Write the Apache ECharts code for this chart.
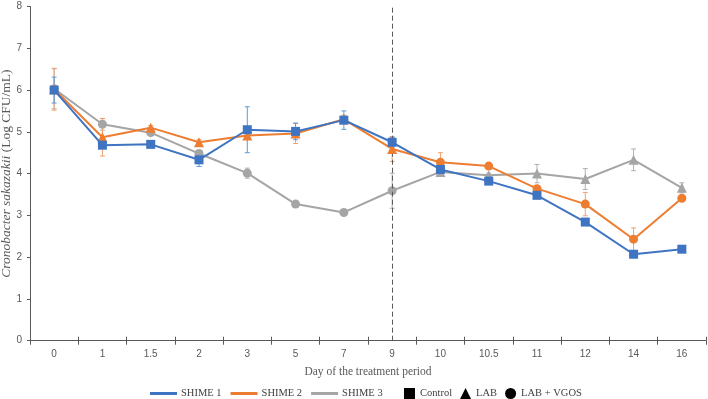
<!DOCTYPE html>
<html>
<head>
<meta charset="utf-8">
<script src="https://cdn.jsdelivr.net/npm/echarts@6/dist/echarts.min.js"></script>
<style>html,body{margin:0;padding:0;background:#fff;}#c{width:708px;height:399px;}</style>
</head>
<body>
<div id="c"></div>
<script>
// ---- data ----
const days = ['0','1','1.5','2','3','5','7','9','10','10.5','11','12','14','16'];
const shime1 = [6.00, 4.68, 4.70, 4.33, 5.05, 5.01, 5.28, 4.75, 4.10, 3.82, 3.48, 2.84, 2.07, 2.19];
const shime2 = [6.02, 4.87, 5.10, 4.75, 4.91, 4.96, 5.30, 4.59, 4.27, 4.18, 3.64, 3.27, 2.43, 3.41];
const shime3 = [6.03, 5.18, 4.98, 4.48, 4.01, 3.27, 3.07, 3.59, 4.04, 3.96, 4.00, 3.87, 4.33, 3.66];
const err1 = [0.31, 0.05, 0.04, 0.16, 0.55, 0.20, 0.22, 0.12, 0.05, 0.04, 0.05, 0.05, 0.04, 0.04];
const err2 = [0.50, 0.45, 0.05, 0.06, 0.08, 0.24, 0.10, 0.30, 0.23, 0.05, 0.05, 0.28, 0.27, 0.05];
const err3 = [0.48, 0.14, 0.05, 0.05, 0.12, 0.05, 0.05, 0.42, 0.10, 0.05, 0.22, 0.25, 0.26, 0.12];
const switchDay = '9';
const yTicks = [0, 1, 2, 3, 4, 5, 6, 7, 8];

const C1 = '#3F74C2', C2 = '#ED7D31', C3 = '#A5A5A5';
const switchIdx = days.indexOf(switchDay);

function errData(vals, errs) {
  return vals.map((v, i) => [i, v - errs[i], v + errs[i]]);
}
function errSeries(name, vals, errs, color, z) {
  return {
    type: 'custom', name: name + ' err', z: z, silent: true,
    data: errData(vals, errs),
    renderItem: function (params, api) {
      const lo = api.coord([api.value(0), api.value(1)]);
      const hi = api.coord([api.value(0), api.value(2)]);
      const w = 2.5;
      const st = { stroke: color, lineWidth: 1 };
      return { type: 'group', children: [
        { type: 'line', shape: { x1: lo[0], y1: lo[1], x2: hi[0], y2: hi[1] }, style: st },
        { type: 'line', shape: { x1: lo[0]-w, y1: lo[1], x2: lo[0]+w, y2: lo[1] }, style: st },
        { type: 'line', shape: { x1: hi[0]-w, y1: hi[1], x2: hi[0]+w, y2: hi[1] }, style: st }
      ]};
    }
  };
}

const serif = 'Liberation Serif';
const sans = 'Liberation Sans';

const option = {
  animation: false,
  grid: { left: 30, right: 2, top: 6.5, bottom: 58.3, containLabel: false, outerBoundsMode: 'none' },
  xAxis: [{
    type: 'category', data: days, boundaryGap: true,
    axisLine: { lineStyle: { color: '#595959', width: 1 } },
    axisTick: { show: true, inside: true, length: 4, lineStyle: { color: '#595959' } },
    axisLabel: { color: '#595959', fontFamily: sans, fontSize: 10, margin: 9 },
    name: 'Day of the treatment period', nameLocation: 'middle', nameGap: 25, nameMoveOverlap: false,
    nameTextStyle: { color: '#595959', fontFamily: serif, fontSize: 11.5 }
  }, {
    type: 'category', data: days, position: 'bottom', boundaryGap: true,
    axisLine: { show: false },
    axisTick: { show: true, inside: false, length: 4, lineStyle: { color: '#595959' } },
    axisLabel: { show: false }
  }],
  yAxis: {
    type: 'value', min: yTicks[0], max: yTicks[yTicks.length - 1], interval: 1,
    splitLine: { show: false },
    axisLine: { show: true, lineStyle: { color: '#595959', width: 1 } },
    axisTick: { show: true, length: 3, lineStyle: { color: '#595959' } },
    axisLabel: { color: '#595959', fontFamily: sans, fontSize: 10, margin: 8 },
    name: '{i|Cronobacter sakazakii} {n|(Log CFU/mL)}', nameLocation: 'middle', nameGap: 24,
    nameMoveOverlap: false,
    nameTextStyle: {
      color: '#595959', fontFamily: serif, fontSize: 13.5,
      align: 'center', verticalAlign: 'middle',
      rich: {
        i: { fontStyle: 'italic', fontFamily: serif, fontSize: 13.5, color: '#595959' },
        n: { fontFamily: serif, fontSize: 13.5, color: '#595959' }
      }
    }
  },
  legend: [{
    left: 145, top: 383, itemWidth: 27, itemHeight: 3, itemGap: 9,
    icon: 'rect',
    data: ['SHIME 1', 'SHIME 2', 'SHIME 3'],
    textStyle: { fontFamily: serif, fontSize: 10.5, color: '#404040', padding: [0, 0, 0, -1] }
  }, {
    left: 399, top: 383, itemWidth: 11, itemHeight: 11, itemGap: 8,
    data: [{ name: 'Control', icon: 'rect' }, { name: 'LAB', icon: 'triangle' }, { name: 'LAB + VGOS', icon: 'circle' }],
    textStyle: { fontFamily: serif, fontSize: 10.5, color: '#404040' }
  }],
  series: [
    errSeries('SHIME 3', shime3, err3, '#B0B0B0', 1),
    errSeries('SHIME 2', shime2, err2, '#F0A070', 2),
    errSeries('SHIME 1', shime1, err1, '#5B9BD5', 3),
    {
      name: 'SHIME 3', type: 'line', data: shime3, z: 4,
      color: C3, lineStyle: { width: 2, color: C3 }, itemStyle: { color: C3 },
      symbol: (v, p) => p.dataIndex <= switchIdx ? 'circle' : 'triangle',
      symbolSize: (v, p) => p.dataIndex <= switchIdx ? 9 : 10,
      showAllSymbol: true
    },
    {
      name: 'SHIME 2', type: 'line', data: shime2, z: 5,
      color: C2, lineStyle: { width: 2, color: C2 }, itemStyle: { color: C2 },
      symbol: (v, p) => p.dataIndex <= switchIdx ? 'triangle' : 'circle',
      symbolSize: (v, p) => p.dataIndex <= switchIdx ? 10 : 9,
      showAllSymbol: true
    },
    {
      name: 'SHIME 1', type: 'line', data: shime1, z: 6,
      color: C1, lineStyle: { width: 2, color: C1 }, itemStyle: { color: C1 },
      symbol: 'rect', symbolSize: 9, showAllSymbol: true,
      markLine: {
        silent: true, symbol: 'none', label: { show: false },
        lineStyle: { color: '#595959', type: [5, 3], width: 1 },
        data: [{ xAxis: switchDay }]
      }
    },
    { name: 'Control', type: 'line', data: [], color: '#000', itemStyle: { color: '#000' } },
    { name: 'LAB', type: 'line', data: [], color: '#000', itemStyle: { color: '#000' } },
    { name: 'LAB + VGOS', type: 'line', data: [], color: '#000', itemStyle: { color: '#000' } }
  ]
};
const chart = echarts.init(document.getElementById('c'), null, { renderer: 'canvas' });
chart.setOption(option);
</script>
</body>
</html>
